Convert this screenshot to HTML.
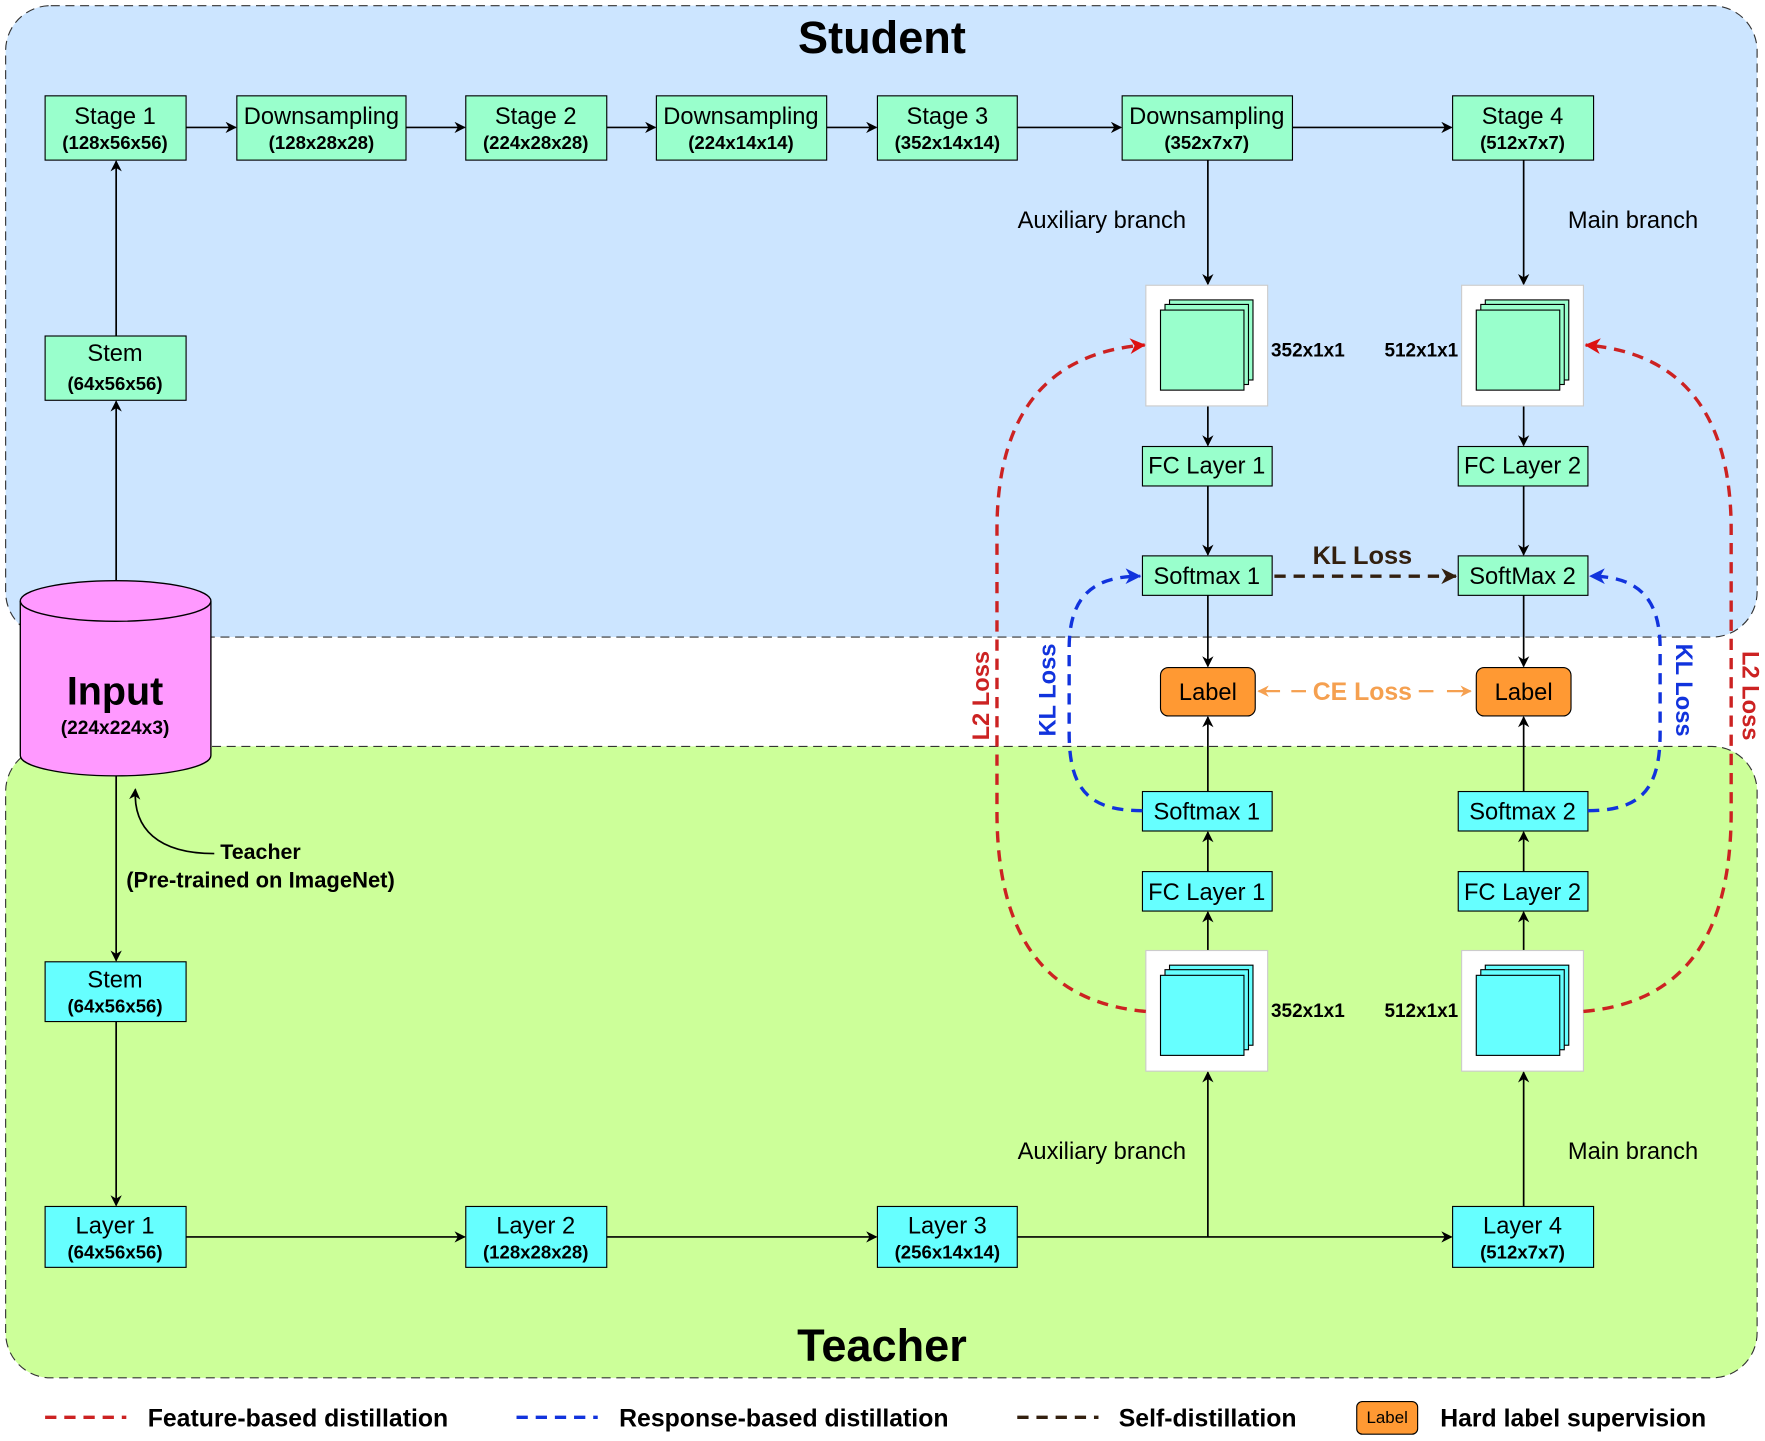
<!DOCTYPE html>
<html><head><meta charset="utf-8"><style>
html,body{margin:0;padding:0;background:#fff}
svg{display:block}
text{font-family:"Liberation Sans",Arial,sans-serif}
</style></head><body>
<svg width="1765" height="1441" viewBox="0 0 1565 1278" preserveAspectRatio="none" xmlns="http://www.w3.org/2000/svg">
<defs>
<marker id="ak" markerWidth="10" markerHeight="10" refX="9" refY="5" orient="auto" markerUnits="userSpaceOnUse"><path d="M0,0 L10,5 L0,10 L3,5 z" fill="#000"/></marker>
<marker id="ab" markerWidth="14" markerHeight="14" refX="13" refY="7" orient="auto" markerUnits="userSpaceOnUse"><path d="M0,0 L14,7 L0,14 L4,7 z" fill="#1133dd"/></marker>
<marker id="ar" markerWidth="14" markerHeight="14" refX="13" refY="7" orient="auto" markerUnits="userSpaceOnUse"><path d="M0,0 L14,7 L0,14 L4,7 z" fill="#dd1111"/></marker>
<marker id="ad" markerWidth="14" markerHeight="14" refX="13" refY="7" orient="auto" markerUnits="userSpaceOnUse"><path d="M0,0 L14,7 L0,14 L4,7 z" fill="#33200f"/></marker>
<marker id="ao" markerWidth="10" markerHeight="10" refX="9" refY="5" orient="auto" markerUnits="userSpaceOnUse"><path d="M0,0 L10,5 L0,10 L3,5 z" fill="#f5a050"/></marker>
</defs>
<rect x="5" y="5" width="1553" height="560" rx="40" fill="#cce5ff" stroke="#333" stroke-dasharray="8,5"/>
<rect x="5" y="662" width="1553" height="560" rx="40" fill="#ccff99" stroke="#333" stroke-dasharray="8,5"/>
<text x="782" y="47" font-size="40" font-weight="bold" text-anchor="middle">Student</text>
<text x="782" y="1207" font-size="40" font-weight="bold" text-anchor="middle">Teacher</text>

<g stroke="#000" stroke-width="1.5" fill="none" marker-end="url(#ak)">
<line x1="165" y1="113" x2="209" y2="113"/><line x1="360" y1="113" x2="412" y2="113"/>
<line x1="538" y1="113" x2="581" y2="113"/><line x1="733" y1="113" x2="777" y2="113"/>
<line x1="902" y1="113" x2="994" y2="113"/><line x1="1146" y1="113" x2="1287" y2="113"/>
<line x1="103" y1="515" x2="103" y2="356"/><line x1="103" y1="298" x2="103" y2="143"/>
<line x1="103" y1="688" x2="103" y2="852"/><line x1="103" y1="906" x2="103" y2="1069"/>
<line x1="165" y1="1097" x2="412" y2="1097"/><line x1="538" y1="1097" x2="777" y2="1097"/>
<line x1="902" y1="1097" x2="1287" y2="1097"/><line x1="1071" y1="1097" x2="1071" y2="951"/>
<line x1="1351" y1="1070" x2="1351" y2="951"/>
<line x1="1071" y1="142" x2="1071" y2="252"/><line x1="1351" y1="142" x2="1351" y2="252"/>
<line x1="1071" y1="360" x2="1071" y2="395"/><line x1="1351" y1="360" x2="1351" y2="395"/>
<line x1="1071" y1="431" x2="1071" y2="492"/><line x1="1351" y1="431" x2="1351" y2="492"/>
<line x1="1071" y1="528" x2="1071" y2="591"/><line x1="1351" y1="528" x2="1351" y2="591"/>
<line x1="1071" y1="702" x2="1071" y2="636"/><line x1="1351" y1="702" x2="1351" y2="636"/>
<line x1="1071" y1="773" x2="1071" y2="738"/><line x1="1351" y1="773" x2="1351" y2="738"/>
<line x1="1071" y1="843" x2="1071" y2="809"/><line x1="1351" y1="843" x2="1351" y2="809"/>
<path d="M190,757 C140,757 118,735 120,700"/>
</g>

<g stroke="#000" stroke-width="1">
<g fill="#99ffcc">
<rect x="40" y="85" width="125" height="57"/><rect x="210" y="85" width="150" height="57"/>
<rect x="413" y="85" width="125" height="57"/><rect x="582" y="85" width="151" height="57"/>
<rect x="778" y="85" width="124" height="57"/><rect x="995" y="85" width="151" height="57"/>
<rect x="1288" y="85" width="125" height="57"/><rect x="40" y="298" width="125" height="57"/>
<rect x="1013" y="396" width="115" height="35"/><rect x="1293" y="396" width="115" height="35"/>
<rect x="1013" y="493" width="115" height="35"/><rect x="1293" y="493" width="115" height="35"/>
</g>
<g fill="#66ffff">
<rect x="40" y="853" width="125" height="53"/><rect x="40" y="1070" width="125" height="54"/>
<rect x="413" y="1070" width="125" height="54"/><rect x="778" y="1070" width="124" height="54"/>
<rect x="1288" y="1070" width="125" height="54"/>
<rect x="1013" y="702" width="115" height="35"/><rect x="1293" y="702" width="115" height="35"/>
<rect x="1013" y="773" width="115" height="35"/><rect x="1293" y="773" width="115" height="35"/>
</g>
<rect x="1029" y="592" width="84" height="43" rx="7" fill="#ff9933"/>
<rect x="1309" y="592" width="84" height="43" rx="7" fill="#ff9933"/>
</g>

<g stroke="#ccc" fill="#fff">
<rect x="1016" y="253" width="108" height="107"/><rect x="1296" y="253" width="108" height="107"/>
<rect x="1016" y="843" width="108" height="107"/><rect x="1296" y="843" width="108" height="107"/>
</g>
<g stroke="#000" stroke-width="1">
<g fill="#99ffcc">
<rect x="1037" y="266" width="74" height="71"/><rect x="1033" y="270" width="74" height="71"/><rect x="1029" y="275" width="74" height="71"/>
<rect x="1317" y="266" width="74" height="71"/><rect x="1313" y="270" width="74" height="71"/><rect x="1309" y="275" width="74" height="71"/>
</g>
<g fill="#66ffff">
<rect x="1037" y="856" width="74" height="71"/><rect x="1033" y="860" width="74" height="71"/><rect x="1029" y="865" width="74" height="71"/>
<rect x="1317" y="856" width="74" height="71"/><rect x="1313" y="860" width="74" height="71"/><rect x="1309" y="865" width="74" height="71"/>
</g>
</g>

<path d="M18,533 L18,670 A84,18 0 0 0 187,670 L187,533" fill="#ff99ff" stroke="#000" stroke-width="1.2"/>
<ellipse cx="102.5" cy="533" rx="84.5" ry="18" fill="#ff99ff" stroke="#000" stroke-width="1.2"/>
<text x="102" y="625" font-size="35" font-weight="bold" text-anchor="middle">Input</text>
<text x="102" y="651" font-size="17" font-weight="bold" text-anchor="middle">(224x224x3)</text>
<text x="231" y="762" font-size="19" font-weight="bold" text-anchor="middle">Teacher</text>
<text x="231" y="787" font-size="19.5" font-weight="bold" text-anchor="middle">(Pre-trained on ImageNet)</text>

<g font-size="21" text-anchor="middle">
<text x="102" y="110">Stage 1</text><text x="285" y="110">Downsampling</text><text x="475" y="110">Stage 2</text>
<text x="657" y="110">Downsampling</text><text x="840" y="110">Stage 3</text><text x="1070" y="110">Downsampling</text>
<text x="1350" y="110">Stage 4</text><text x="102" y="320">Stem</text>
<text x="102" y="876">Stem</text>
<text x="102" y="1094">Layer 1</text><text x="475" y="1094">Layer 2</text><text x="840" y="1094">Layer 3</text><text x="1350" y="1094">Layer 4</text>
<text x="1070" y="420">FC Layer 1</text><text x="1350" y="420">FC Layer 2</text>
<text x="1070" y="518">Softmax 1</text><text x="1350" y="518">SoftMax 2</text>
<text x="1070" y="727">Softmax 1</text><text x="1350" y="727">Softmax 2</text>
<text x="1070" y="798">FC Layer 1</text><text x="1350" y="798">FC Layer 2</text>
<text x="1071" y="621">Label</text><text x="1351" y="621">Label</text>
<text x="977" y="202">Auxiliary branch</text><text x="1448" y="202">Main branch</text>
<text x="977" y="1028">Auxiliary branch</text><text x="1448" y="1028">Main branch</text>
</g>
<g font-size="16.5" font-weight="bold" text-anchor="middle">
<text x="102" y="132">(128x56x56)</text><text x="285" y="132">(128x28x28)</text><text x="475" y="132">(224x28x28)</text>
<text x="657" y="132">(224x14x14)</text><text x="840" y="132">(352x14x14)</text><text x="1070" y="132">(352x7x7)</text>
<text x="1350" y="132">(512x7x7)</text><text x="102" y="346">(64x56x56)</text><text x="102" y="898">(64x56x56)</text>
<text x="102" y="1116">(64x56x56)</text><text x="475" y="1116">(128x28x28)</text><text x="840" y="1116">(256x14x14)</text><text x="1350" y="1116">(512x7x7)</text>
</g>
<g font-size="16.8" font-weight="bold">
<text x="1127" y="316">352x1x1</text><text x="1293" y="316" text-anchor="end">512x1x1</text>
<text x="1127" y="902">352x1x1</text><text x="1293" y="902" text-anchor="end">512x1x1</text>
</g>

<g fill="none" stroke-width="3" stroke-dasharray="10,7">
<line x1="1130" y1="511" x2="1291" y2="511" stroke="#33200f" marker-end="url(#ad)"/>
<path d="M1013,719 C965,719 948,700 948,650 L948,575 C948,530 968,511 1011,511" stroke="#1133dd" marker-end="url(#ab)"/>
<path d="M1408,719 C1455,719 1472,700 1472,650 L1472,575 C1472,530 1452,511 1410,511" stroke="#1133dd" marker-end="url(#ab)"/>
<path d="M1016,897 C935,890 884,840 884,720 L884,470 C884,360 935,312 1015,306" stroke="#cc2222" marker-end="url(#ar)"/>
<path d="M1404,897 C1485,890 1535,840 1535,720 L1535,470 C1535,360 1485,312 1406,306" stroke="#cc2222" marker-end="url(#ar)"/>
</g>
<text x="1208" y="500" font-size="22.5" font-weight="bold" fill="#33200f" text-anchor="middle">KL Loss</text>
<g stroke="#f5a050" stroke-width="2" fill="none">
<line x1="1135" y1="613" x2="1116" y2="613" marker-end="url(#ao)"/>
<line x1="1145" y1="613" x2="1158" y2="613"/>
<line x1="1258" y1="613" x2="1271" y2="613"/>
<line x1="1283" y1="613" x2="1304" y2="613" marker-end="url(#ao)"/>
</g>
<text x="1208" y="621" font-size="22" font-weight="bold" fill="#f5a050" text-anchor="middle">CE Loss</text>
<text transform="translate(936,612) rotate(-90)" font-size="21" font-weight="bold" fill="#1133dd" text-anchor="middle">KL Loss</text>
<text transform="translate(1486,612) rotate(90)" font-size="21" font-weight="bold" fill="#1133dd" text-anchor="middle">KL Loss</text>
<text transform="translate(877,617) rotate(-90)" font-size="21" font-weight="bold" fill="#cc2222" text-anchor="middle">L2 Loss</text>
<text transform="translate(1545,617) rotate(90)" font-size="21" font-weight="bold" fill="#cc2222" text-anchor="middle">L2 Loss</text>

<g stroke-width="3" stroke-dasharray="10,7">
<line x1="40" y1="1257" x2="112" y2="1257" stroke="#cc2222"/>
<line x1="458" y1="1257" x2="530" y2="1257" stroke="#1133dd"/>
<line x1="902" y1="1257" x2="974" y2="1257" stroke="#33200f"/>
</g>
<g font-size="22" font-weight="bold">
<text x="131" y="1265">Feature-based distillation</text>
<text x="549" y="1265">Response-based distillation</text>
<text x="992" y="1265">Self-distillation</text>
<text x="1277" y="1265">Hard label supervision</text>
</g>
<rect x="1203" y="1243" width="54" height="29" rx="5" fill="#ff9933" stroke="#000"/>
<text x="1230" y="1262" font-size="15" text-anchor="middle">Label</text>
</svg>
</body></html>
